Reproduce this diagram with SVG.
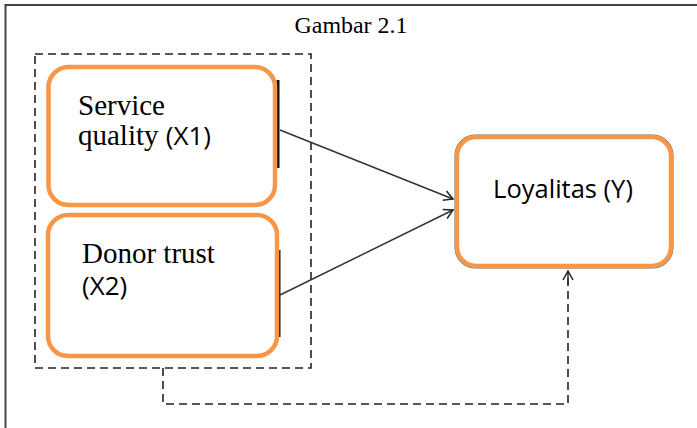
<svg xmlns="http://www.w3.org/2000/svg" width="697" height="428" viewBox="0 0 697 428">
  <style>
    .frame { fill: none; stroke: #444; stroke-width: 2; }
    .box { fill: #fff; stroke: #F79646; stroke-width: 4.5; }
    .edge { fill: none; stroke: #111; stroke-width: 3; }
    .serif { font-family: "Liberation Serif", "Times New Roman", serif; fill: #000; }
    .sans { font-family: "Open Sans", "Noto Sans", sans-serif; fill: #000; }
    .dash { fill: none; stroke: #222; stroke-width: 1.6; stroke-dasharray: 8 5; }
    .link { fill: none; stroke: #333; stroke-width: 1.5; }
  </style>
  <defs>
    <marker id="open" markerWidth="12" markerHeight="12" refX="10" refY="6" orient="auto" markerUnits="userSpaceOnUse">
      <path d="M1,1 L10,6 L1,11" fill="none" stroke="#222" stroke-width="1.5"/>
    </marker>
  </defs>
  <rect width="697" height="428" fill="#fff"/>

  <!-- page frame -->
  <path class="frame" d="M5.5,428 V5 H697"/>
  <text class="serif" x="351" y="33" font-size="24" text-anchor="middle" textLength="113" lengthAdjust="spacingAndGlyphs">Gambar 2.1</text>

  <!-- grouping of the independent variables -->
  <rect id="group-x" class="dash" x="35" y="54" width="276" height="314"/>

  <g id="node-x1">
    <path class="edge" d="M278,80 V168"/>
    <rect class="box" x="48.5" y="67" width="226.5" height="138" rx="20"/>
    <text class="serif" x="78" y="115" font-size="29">Service</text>
    <text x="78" y="145" font-size="29"><tspan class="serif">quality </tspan><tspan class="sans" font-size="26">(X1)</tspan></text>
  </g>

  <g id="node-x2">
    <path class="edge" d="M279,250 V337"/>
    <rect class="box" x="48" y="215" width="229" height="141" rx="20"/>
    <text class="serif" x="82" y="263" font-size="29">Donor trust</text>
    <text class="sans" x="82" y="295" font-size="26">(X2)</text>
  </g>

  <g id="node-y">
    <rect x="455" y="135" width="218" height="133" rx="20" fill="none" stroke="#666" stroke-width="1"/>
    <rect class="box" x="457" y="137" width="214" height="129" rx="19"/>
    <text class="sans" x="563" y="198" font-size="25.5" text-anchor="middle">Loyalitas (Y)</text>
  </g>

  <g id="connectors">
    <path class="link" d="M280,130 L453,199" marker-end="url(#open)"/>
    <path class="link" d="M280,295 L453,210" marker-end="url(#open)"/>
    <path class="dash" d="M163,368 V404 H568 V271"/>
    <path class="link" d="M568,285 V271" marker-end="url(#open)"/>
  </g>
</svg>
